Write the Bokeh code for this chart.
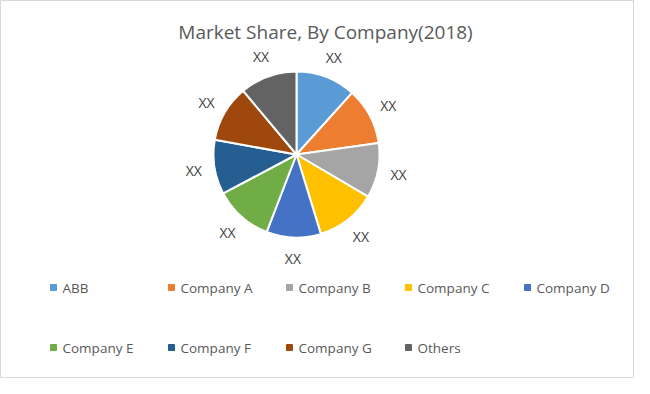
import numpy as np
from bokeh.plotting import figure
from bokeh.models import Range1d, ColumnDataSource
from bokeh.embed import file_html
from bokeh.resources import INLINE
from bokeh.core.properties import value

# ---- data ----
companies = ["ABB", "Company A", "Company B", "Company C", "Company D",
             "Company E", "Company F", "Company G", "Others"]
shares = [11.7, 11.1, 10.7, 11.8, 10.6, 11.4, 10.6, 11.1, 11.1]
slice_labels = ["XX", "XX", "XX", "XX", "XX", "XX", "XX", "XX", "XX"]
colors = ["#5B9BD5", "#ED7D31", "#A5A5A5", "#FFC000", "#4472C4",
          "#70AD47", "#255E91", "#9E480E", "#636363"]
title_text = "Market Share, By Company(2018)"

# ---- layout constants (pixels) ----
W, H = 634, 378
CX, CY, R = 296, 224, 83
LABEL_R = 104
FONT = "Open Sans"

p = figure(width=W, height=H, x_range=Range1d(0, W), y_range=Range1d(0, H),
           output_backend="svg", toolbar_location=None, min_border=0,
           x_axis_location=None, y_axis_location=None)
p.grid.visible = False
p.outline_line_color = "#d9d9d9"
p.outline_line_width = 1
p.background_fill_color = "white"
p.border_fill_color = "white"

vals = np.array(shares, dtype=float)
frac = vals / vals.sum()
cum = np.cumsum(frac)
start = np.pi / 2 - 2 * np.pi * (cum - frac)
end = np.pi / 2 - 2 * np.pi * cum
mid = (start + end) / 2

src = ColumnDataSource(dict(
    x=[CX] * len(companies), y=[CY] * len(companies),
    start=start, end=end, color=colors, name=companies,
    lx=CX + LABEL_R * np.cos(mid), ly=CY + LABEL_R * np.sin(mid),
    lab=slice_labels,
))

p.wedge(x="x", y="y", radius=R, radius_units="screen",
        start_angle="start", end_angle="end", direction="clock",
        fill_color="color", line_color="white", line_width=2, source=src)

p.text(x="lx", y="ly", text="lab", source=src, text_align="center",
       text_baseline="middle", text_font=value(FONT), text_font_size="14px",
       text_color="#404040")

# title
p.text(x=[325], y=[347], text=[title_text], text_align="center",
       text_baseline="middle", text_font=value(FONT), text_font_size="19px",
       text_color="#595959")

# legend (manual grid)
col_x = [53, 171, 289, 408, 527]
row_y = [91, 31]
lx = [col_x[i % 5] for i in range(len(companies))]
ly = [row_y[i // 5] for i in range(len(companies))]
leg = ColumnDataSource(dict(x=lx, y=ly, tx=[v + 9 for v in lx],
                            name=companies, color=colors))
p.scatter(x="x", y="y", marker="square", size=6, fill_color="color",
          line_color="color", source=leg)
p.text(x="tx", y="y", text="name", source=leg, text_align="left",
       text_baseline="middle", text_font=value(FONT), text_font_size="13.5px",
       text_color="#595959")

open("out.html", "w").write(file_html(p, INLINE))
